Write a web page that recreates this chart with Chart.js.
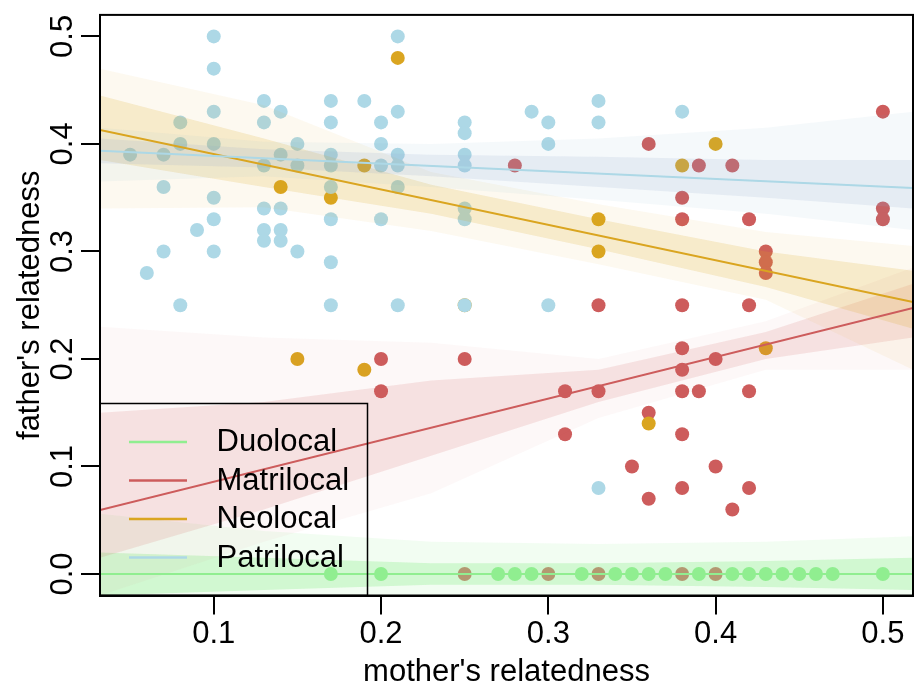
<!DOCTYPE html>
<html><head><meta charset="utf-8">
<script src="https://cdn.jsdelivr.net/npm/chart.js@4/dist/chart.umd.min.js"></script>
<style>
html,body{margin:0;padding:0;background:#fff;overflow:hidden;width:915px;height:688px;}
#wrap{position:absolute;left:0;top:0;width:920px;height:688px;}
</style></head><body>
<div id="wrap"><canvas id="c"></canvas></div>
<script>
// ---------- DATA ----------
const groups = ["Duolocal", "Matrilocal", "Neolocal", "Patrilocal"];
const xTicks = [0.1, 0.2, 0.3, 0.4, 0.5];
const xTickLabels = ["0.1", "0.2", "0.3", "0.4", "0.5"];
const yTicks = [0, 0.1, 0.2, 0.3, 0.4, 0.5];
const yTickLabels = ["0.0", "0.1", "0.2", "0.3", "0.4", "0.5"];
const xTitle = "mother's relatedness";
const yTitle = "father's relatedness";

// observed points (mother's relatedness, father's relatedness)
const duoX = [0.17,0.20,0.27,0.28,0.29,0.32,0.34,0.35,0.36,0.37,0.39,0.41,0.42,0.43,0.44,0.45,0.46,0.47,0.50];
const duoY = [0,0,0,0,0,0,0,0,0,0,0,0,0,0,0,0,0,0,0];

const matX = [0.20,0.20,0.25,0.25,0.28,0.30,0.31,0.31,0.33,0.33,0.33,0.35,0.36,0.36,0.36,0.38,0.38,0.38,0.38,0.38,0.38,0.38,0.38,0.38,0.39,0.39,0.40,0.40,0.40,0.41,0.41,0.42,0.42,0.42,0.42,0.43,0.43,0.43,0.50,0.50,0.50];
const matY = [0.20,0.17,0.20,0.00,0.38,0.00,0.17,0.13,0.25,0.17,0.00,0.10,0.40,0.15,0.07,0.35,0.33,0.25,0.21,0.19,0.17,0.13,0.08,0.00,0.38,0.17,0.20,0.10,0.00,0.38,0.06,0.33,0.25,0.17,0.08,0.30,0.29,0.28,0.43,0.34,0.33];

const neoX = [0.14,0.15,0.17,0.19,0.19,0.21,0.25,0.33,0.33,0.36,0.38,0.40,0.43];
const neoY = [0.36,0.20,0.35,0.38,0.19,0.48,0.25,0.33,0.30,0.14,0.38,0.40,0.21];

const patX = [0.05,0.06,0.07,0.07,0.07,0.08,0.08,0.08,0.09,0.10,0.10,0.10,0.10,0.10,0.10,0.10,
  0.13,0.13,0.13,0.13,0.13,0.13,0.14,0.14,0.14,0.14,0.14,0.15,0.15,0.15,
  0.17,0.17,0.17,0.17,0.17,0.17,0.17,0.17,0.19,0.20,0.20,0.20,0.20,
  0.21,0.21,0.21,0.21,0.21,0.21,0.25,0.25,0.25,0.25,0.25,0.25,0.25,
  0.29,0.30,0.30,0.30,0.33,0.33,0.33,0.38];
const patY = [0.39,0.28,0.39,0.36,0.30,0.42,0.40,0.25,0.32,0.50,0.47,0.43,0.40,0.35,0.33,0.30,
  0.44,0.42,0.38,0.34,0.32,0.31,0.43,0.39,0.34,0.32,0.31,0.40,0.38,0.30,
  0.44,0.42,0.39,0.38,0.36,0.33,0.29,0.25,0.44,0.42,0.40,0.38,0.33,
  0.50,0.43,0.39,0.38,0.36,0.25,0.42,0.41,0.39,0.38,0.34,0.33,0.25,
  0.43,0.42,0.40,0.25,0.44,0.42,0.08,0.43];

// fitted mean lines (read at the left and right plot edges)
const fitX = [0.032, 0.518];
const duoFit = [0.0, 0.0];
const matFit = [0.0594, 0.2475];
const neoFit = [0.413, 0.253];
const patFit = [0.3936, 0.359];

// envelope of the posterior line bundles, read at these x positions
const bandX = [0.032, 0.13, 0.23, 0.33, 0.43, 0.518];
const duoOuterHi = [0.056, 0.040, 0.030, 0.028, 0.030, 0.035];
const duoOuterLo = [-0.02, -0.02, -0.02, -0.02, -0.02, -0.02];
const duoInnerHi = [0.020, 0.015, 0.010, 0.010, 0.012, 0.015];
const duoInnerLo = [-0.020, -0.015, -0.010, -0.010, -0.012, -0.015];
const matOuterHi = [0.23, 0.22, 0.215, 0.20, 0.235, 0.285];
const matOuterLo = [-0.02, 0.03, 0.075, 0.145, 0.19, 0.19];
const matInnerHi = [0.15, 0.16, 0.18, 0.19, 0.225, 0.27];
const matInnerLo = [0.015, 0.06, 0.11, 0.16, 0.20, 0.22];
const neoOuterHi = [0.47, 0.436, 0.374, 0.344, 0.318, 0.305];
const neoOuterLo = [0.34, 0.341, 0.319, 0.288, 0.255, 0.19];
const neoInnerHi = [0.445, 0.405, 0.362, 0.330, 0.300, 0.282];
const neoInnerLo = [0.385, 0.360, 0.335, 0.302, 0.267, 0.228];
const patOuterHi = [0.415, 0.402, 0.40, 0.405, 0.415, 0.43];
const patOuterLo = [0.365, 0.37, 0.36, 0.348, 0.335, 0.32];
const patInnerHi = [0.405, 0.395, 0.39, 0.388, 0.385, 0.385];
const patInnerLo = [0.382, 0.378, 0.37, 0.36, 0.35, 0.34];

// ---------- STYLE ----------
const FONT = "'Liberation Sans', Arial, Helvetica, sans-serif";
const col = {
  Duolocal: "rgb(144,238,144)",
  Matrilocal: "rgb(205,92,92)",
  Neolocal: "rgb(218,165,32)",
  Patrilocal: "rgb(173,216,230)"
};
const bandCol = {
  Duolocal: ["rgba(144,238,144,0.12)", "rgba(144,238,144,0.34)"],
  Matrilocal: ["rgba(205,92,92,0.045)", "rgba(205,92,92,0.15)"],
  Neolocal: ["rgba(218,165,32,0.065)", "rgba(218,165,32,0.18)"],
  Patrilocal: ["rgba(120,175,195,0.07)", "rgba(150,170,205,0.16)"]
};

const zip = (xs, ys) => xs.map((x, i) => ({x: x, y: ys[i]}));

const pointSets = {
  Duolocal: [duoX, duoY, 24], Matrilocal: [matX, matY, 23],
  Neolocal: [neoX, neoY, 22], Patrilocal: [patX, patY, 21]
};
const fitSets = {Duolocal: duoFit, Matrilocal: matFit, Neolocal: neoFit, Patrilocal: patFit};
const bandSets = {
  Duolocal: [duoOuterHi, duoOuterLo, duoInnerHi, duoInnerLo],
  Matrilocal: [matOuterHi, matOuterLo, matInnerHi, matInnerLo],
  Neolocal: [neoOuterHi, neoOuterLo, neoInnerHi, neoInnerLo],
  Patrilocal: [patOuterHi, patOuterLo, patInnerHi, patInnerLo]
};

const datasets = [];
groups.forEach(g => {
  const p = pointSets[g];
  datasets.push({type: 'scatter', label: g + ' points', data: zip(p[0], p[1]),
    backgroundColor: col[g], borderWidth: 0, pointRadius: 7, pointHoverRadius: 7,
    order: p[2]});
});
groups.forEach((g, gi) => {
  const b = bandSets[g];
  const bo = 15 - gi;
  datasets.push({type: 'line', label: g + ' band', data: zip(bandX, b[0]), fill: '+1',
    backgroundColor: bandCol[g][0], borderColor: 'transparent', borderWidth: 0, pointRadius: 0, order: bo});
  datasets.push({type: 'line', label: g + ' band lo', data: zip(bandX, b[1]), fill: false,
    borderColor: 'transparent', borderWidth: 0, pointRadius: 0, order: bo});
  datasets.push({type: 'line', label: g + ' core', data: zip(bandX, b[2]), fill: '+1',
    backgroundColor: bandCol[g][1], borderColor: 'transparent', borderWidth: 0, pointRadius: 0, order: bo});
  datasets.push({type: 'line', label: g + ' core lo', data: zip(bandX, b[3]), fill: false,
    borderColor: 'transparent', borderWidth: 0, pointRadius: 0, order: bo});
});
groups.forEach((g, gi) => {
  datasets.push({type: 'line', label: g, data: zip(fitX, fitSets[g]), fill: false,
    borderColor: col[g], borderWidth: 2, pointRadius: 0, order: 3 - gi});
});

const framePlugin = {
  id: 'frameLegend',
  afterDraw(chart) {
    const {ctx, chartArea: a} = chart;
    ctx.save();
    ctx.strokeStyle = '#000';
    ctx.lineWidth = 2;
    ctx.strokeRect(a.left, a.top, a.right - a.left, a.bottom - a.top);
    // legend box, bottom-left corner of plot
    const bx = a.left, bw = 267.5, bh = 192, by = a.bottom - bh;
    ctx.lineWidth = 1.5;
    ctx.strokeRect(bx, by, bw, bh);
    ctx.font = "31px " + FONT;
    ctx.textBaseline = 'middle';
    ctx.textAlign = 'left';
    groups.forEach((g, i) => {
      const y = by + 38.4 + i * 38.5;
      ctx.strokeStyle = col[g];
      ctx.lineWidth = 2.5;
      ctx.beginPath(); ctx.moveTo(bx + 29, y); ctx.lineTo(bx + 87, y); ctx.stroke();
      ctx.fillStyle = '#000';
      ctx.fillText(g, bx + 116.5, y + 1);
    });
    ctx.restore();
  }
};

Chart.defaults.font.family = FONT;
Chart.defaults.font.size = 31;
Chart.defaults.color = '#000';

new Chart(document.getElementById('c'), {
  data: {datasets: datasets},
  options: {
    responsive: true, maintainAspectRatio: false, animation: false, events: [],
    layout: {padding: {top: 7.5, right: 1.5, left: 0, bottom: 0}},
    plugins: {legend: {display: false}, tooltip: {enabled: false}, filler: {propagate: false}},
    scales: {
      x: {
        type: 'linear', position: 'bottom', min: 0.032, max: 0.518,
        afterBuildTicks: s => { s.ticks = xTicks.map(v => ({value: v})); },
        afterFit: s => { s.height = 92.5; },
        ticks: {callback: (v) => xTickLabels[xTicks.indexOf(v)] ?? '', padding: 1,
          font: {size: 31, lineHeight: 1.2}, maxRotation: 0, minRotation: 0, color: '#000'},
        grid: {display: true, drawOnChartArea: false, drawTicks: true, tickLength: 19,
          color: '#000', lineWidth: 2},
        border: {display: true, color: '#000', width: 2},
        title: {display: true, text: xTitle, font: {size: 31, lineHeight: 1}, padding: {top: 0, bottom: 0.5}, color: '#000'}
      },
      y: {
        type: 'linear', position: 'left', min: -0.02, max: 0.52,
        afterBuildTicks: s => { s.ticks = yTicks.map(v => ({value: v})); },
        afterFit: s => { s.width = 100; },
        ticks: {callback: (v) => yTickLabels[yTicks.indexOf(v)] ?? '', padding: -3.7,
          crossAlign: 'center', minRotation: 90, maxRotation: 90,
          font: {size: 31, lineHeight: 1.2}, color: '#000'},
        grid: {display: true, drawOnChartArea: false, drawTicks: true, tickLength: 19,
          color: '#000', lineWidth: 2},
        border: {display: true, color: '#000', width: 2},
        title: {display: true, text: yTitle, font: {size: 31, lineHeight: 1}, padding: {top: 14.5, bottom: 0}, color: '#000'}
      }
    }
  },
  plugins: [framePlugin]
});
</script>
</body></html>
